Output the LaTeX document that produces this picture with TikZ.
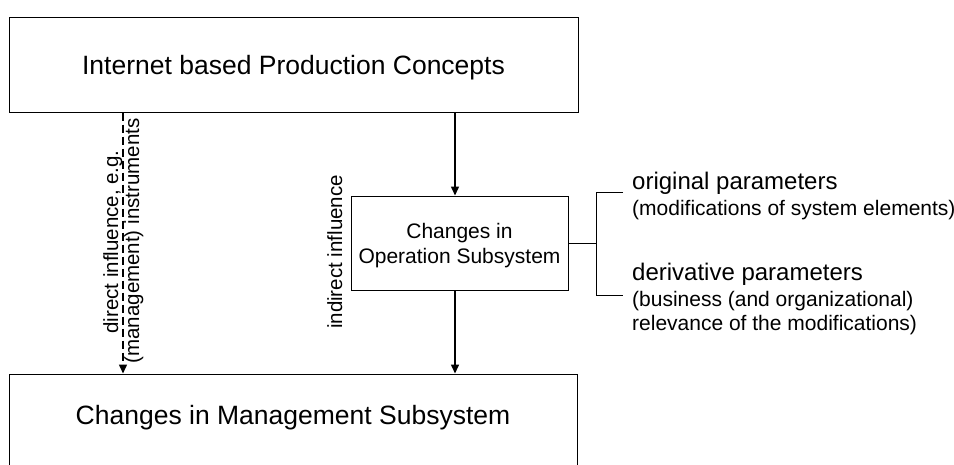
\documentclass[tikz,border=0pt]{standalone}
\usepackage{fontspec}
\setmainfont{Liberation Sans}
\usetikzlibrary{arrows.meta}
\begin{document}
\begin{tikzpicture}[x=1pt,y=-1pt,
  box/.style={draw=black, line width=1pt, inner sep=0pt, align=center},
  flow/.style={line width=1.5pt, -{Triangle[length=9pt,width=8pt]}},
  bracket/.style={line width=1pt},
  titlefont/.style={font=\fontsize{26.5}{30}\selectfont},
  boxfont/.style={font=\fontsize{21}{25}\selectfont},
  sidefont/.style={font=\fontsize{20.5}{24}\selectfont},
  headfont/.style={font=\fontsize{24}{28}\selectfont},
  notefont/.style={font=\fontsize{21}{24}\selectfont},
  rotlabel/.style={sidefont, rotate=90, anchor=base, inner sep=0pt},
  paramlabel/.style={anchor=base west, inner sep=0pt}
]
\useasboundingbox (0,0) rectangle (954,464);

% main blocks
\node[box, titlefont, minimum width=569pt, minimum height=95pt,
      text height=19pt, text depth=0pt] (ipc) at (293.5,64.5)
      {Internet based Production Concepts};
\node[box, boxfont, minimum width=217pt, minimum height=94pt,
      text depth=0pt] (ops) at (459.5,243)
      {Changes in\\Operation Subsystem};
\node[box, titlefont, minimum width=568pt, minimum height=92pt,
      text height=19pt, text depth=10pt] (mgmt) at (293,420)
      {Changes in Management Subsystem};

% influence paths
\coordinate (ax) at (455,0);
\coordinate (dx) at (123,0);
\draw[flow] (ax |- ipc.south) -- (ax |- ops.north);
\draw[flow] (ax |- ops.south) -- (ax |- mgmt.north);
\draw[flow, dash pattern=on 8pt off 4pt] (dx |- ipc.south) -- (dx |- mgmt.north);

% rotated labels along the paths
\node[rotlabel] (direct) at (118,242) {direct influence, e.g.};
\node[rotlabel] (instr) at (139,241) {(management) instruments};
\node[rotlabel] (indirect) at (342,252) {indirect influence};

% parameter bracket
\coordinate (bx) at (596,0);
\coordinate (bt) at (623,192);
\coordinate (bb) at (623,295);
\draw[bracket] (ops.east) -- (bx |- ops.east);
\draw[bracket] (bt) -- (bx |- bt) -- (bx |- bb) -- (bb);

% parameter descriptions
\node[paramlabel, headfont] (orig) at (632,189) {original parameters};
\node[paramlabel, notefont] (origd) at (632,215) {(modifications of system elements)};
\node[paramlabel, headfont] (deriv) at (632,280) {derivative parameters};
\node[paramlabel, notefont] (derivd1) at (632,306) {(business (and organizational)};
\node[paramlabel, notefont] (derivd2) at (632,330) {relevance of the modifications)};
\end{tikzpicture}
\end{document}
